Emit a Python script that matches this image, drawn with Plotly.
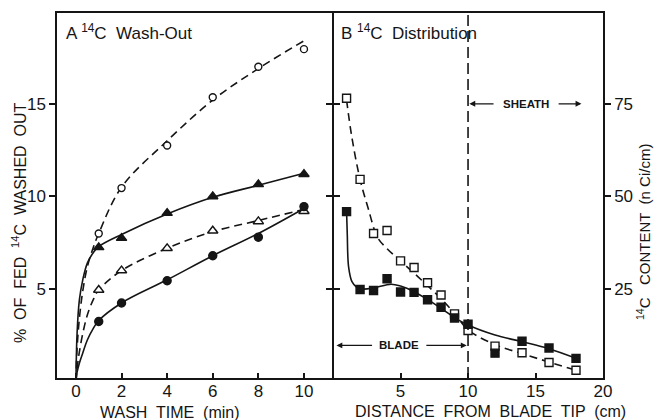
import plotly.graph_objects as go

# ---------------- Panel A data ----------------
wash_time = [1, 2, 4, 6, 8, 10]
open_circle = [8.0, 10.45, 12.75, 15.35, 17.0, 17.95]
filled_triangle = [7.25, 7.75, 9.1, 10.0, 10.65, 11.2]
open_triangle = [4.95, 6.0, 7.2, 8.15, 8.65, 9.2]
filled_circle = [3.25, 4.25, 5.45, 6.8, 7.8, 9.45]

# fitted curves
fit_time = [0, 0.05, 0.15, 0.3, 0.5, 0.75, 1, 2, 4, 6, 8, 10]
open_circle_fit = [0, 1.8, 3.4, 4.9, 6.2, 7.2, 8.0, 10.5, 13.0, 15.2, 16.9, 18.4]
filled_triangle_fit = [0, 2.6, 4.4, 5.5, 6.4, 6.95, 7.3, 7.95, 9.05, 9.95, 10.6, 11.25]
open_triangle_fit = [0, 0.7, 1.6, 2.6, 3.6, 4.4, 4.95, 6.0, 7.2, 8.1, 8.7, 9.3]
filled_circle_fit = [0, 0.5, 1.0, 1.55, 2.25, 2.85, 3.3, 4.25, 5.5, 6.8, 8.0, 9.35]

# ---------------- Panel B data ----------------
distance = [1, 2, 3, 4, 5, 6, 7, 8, 9, 10, 12, 14, 16, 18]
open_square = [76.5, 54.6, 40.0, 40.8, 32.6, 30.8, 26.7, 23.4, 18.3, 13.8, 9.6, 7.8, 5.2, 3.1]
filled_square = [45.9, 24.9, 24.6, 27.8, 24.2, 24.1, 22.1, 20.1, 17.2, 15.5, 7.7, 10.9, 9.1, 6.3]

open_fit_x = [1, 1.4, 2, 2.6, 3.3, 4, 4.8, 6.3, 8, 9, 10, 12, 14, 16, 18]
open_fit_y = [76, 65.8, 54.6, 46.8, 38.9, 35.9, 33.2, 28.3, 22.4, 18.4, 14.0, 10.0, 7.6, 5.3, 3.1]
filled_fit_x = [1, 1.05, 1.15, 1.4, 1.75, 2.2, 3, 4.3, 5, 6, 7, 8, 9, 10, 12, 14, 16, 18]
filled_fit_y = [46, 40, 31, 27, 25.5, 25.0, 25.3, 26.3, 25.8, 24.3, 22.2, 19.8, 17.3, 15.3, 12.6, 10.8, 8.9, 6.3]

left_y_ticks = [5, 10, 15]
left_x_ticks = [0, 2, 4, 6, 8, 10]
right_y_ticks = [25, 50, 75]
right_x_ticks = [5, 10, 15, 20]

INK = "#151515"
FONT = "Liberation Sans"
DASH = "8px,5px"

fig = go.Figure()

def line(x, y, dash, xa="x", ya="y"):
    fig.add_trace(go.Scatter(x=x, y=y, mode="lines", xaxis=xa, yaxis=ya,
                             line=dict(color=INK, width=1.6, dash=dash, shape="spline", smoothing=1.0),
                             hoverinfo="skip", showlegend=False))

def marks(x, y, symbol, size, filled, xa="x", ya="y"):
    fig.add_trace(go.Scatter(x=x, y=y, mode="markers", xaxis=xa, yaxis=ya,
                             marker=dict(symbol=symbol, size=size,
                                         color=INK if filled else "white",
                                         line=dict(color=INK, width=1.4)),
                             showlegend=False))

# Panel A
line(fit_time, open_circle_fit, DASH)
line(fit_time, filled_triangle_fit, "solid")
line(fit_time, open_triangle_fit, DASH)
line(fit_time, filled_circle_fit, "solid")
marks(wash_time, open_circle, "circle", 7, False)
marks(wash_time, filled_triangle, "triangle-up", 9, True)
marks(wash_time, open_triangle, "triangle-up", 9, False)
marks(wash_time, filled_circle, "circle", 8, True)

# Panel B
line(open_fit_x, open_fit_y, DASH, "x2", "y2")
line(filled_fit_x, filled_fit_y, "solid", "x2", "y2")
marks(distance, open_square, "square", 8, False, "x2", "y2")
marks(distance, filled_square, "square", 8, True, "x2", "y2")

W, H = 656, 420
ML, MR, MT, MB = 57, 53, 13, 42
PW, PH = W - ML - MR, H - MT - MB
LW = 1.5
split_l = (333 - LW / 2 - ML) / PW
split_r = (333 + LW / 2 - ML) / PW

def px(xp):
    return (xp - ML) / PW

def py(yp):
    return (H - MB - yp) / PH

axis_common = dict(showgrid=False, zeroline=False, showline=True, linecolor=INK, linewidth=LW,
                   tickcolor=INK, tickwidth=1.5, tickfont=dict(family=FONT, size=17, color=INK))

fig.update_layout(
    width=W, height=H, margin=dict(l=ML, r=MR, t=MT, b=MB),
    paper_bgcolor="white", plot_bgcolor="white",
    xaxis=dict(domain=[0, split_l], range=[-0.83, 11.24], tickvals=left_x_ticks,
               ticks="inside", ticklen=5, mirror=True, anchor="y", ticklabelstandoff=-3,
               **axis_common),
    yaxis=dict(domain=[0, 1], range=[0.2, 19.9], tickvals=left_y_ticks,
               ticks="outside", ticklen=6, mirror="ticks", anchor="x", **axis_common),
    xaxis2=dict(domain=[split_r, 1], range=[0.05, 20], tickvals=right_x_ticks,
                ticks="inside", ticklen=5, mirror=True, anchor="y2", ticklabelstandoff=-3,
                **axis_common),
    yaxis2=dict(domain=[0, 1], range=[1.0, 99.5], tickvals=right_y_ticks, side="right",
                ticks="outside", ticklen=6, mirror="ticks", anchor="x2", **axis_common),
)

fig.add_shape(type="line", xref="x2", yref="y2 domain", x0=10, x1=10, y0=0, y1=1,
              line=dict(color=INK, width=1.6, dash="11px,5px"))

ann = []
tf = dict(family=FONT, size=17, color=INK)
ann.append(dict(xref="paper", yref="paper", x=px(64), y=py(32), xanchor="left", yanchor="middle",
                text="A <sup>14</sup>C  Wash-Out", showarrow=False, font=tf))
ann.append(dict(xref="paper", yref="paper", x=px(339), y=py(32), xanchor="left", yanchor="middle",
                text="B <sup>14</sup>C  Distribution", showarrow=False, font=tf))
af = dict(family=FONT, size=16, color=INK)
ann.append(dict(xref="paper", yref="paper", x=px(170), y=py(412), xanchor="center", yanchor="middle",
                text="WASH  TIME  (min)", showarrow=False, font=af))
ann.append(dict(xref="paper", yref="paper", x=px(490), y=py(411), xanchor="center", yanchor="middle",
                text="DISTANCE  FROM  BLADE  TIP  (cm)", showarrow=False, font=af))
ann.append(dict(xref="paper", yref="paper", x=px(19), y=py(223), xanchor="center", yanchor="middle",
                text="%  OF  FED  <sup>14</sup>C  WASHED  OUT", textangle=-90, showarrow=False, font=af))
ann.append(dict(xref="paper", yref="paper", x=px(643), y=py(232), xanchor="center", yanchor="middle",
                text="<sup>14</sup>C   CONTENT  (n Ci/cm)", textangle=-90, showarrow=False,
                font=dict(family=FONT, size=15, color=INK)))

sf = dict(family=FONT, size=11.5, color=INK)
ann.append(dict(xref="x2", yref="y2", x=14.3, y=75, text="<b>SHEATH</b>", showarrow=False, font=sf))
ann.append(dict(xref="x2", yref="y2", x=4.85, y=9.8, text="<b>BLADE</b>", showarrow=False, font=sf))
for hx, tx, yy in [(10.1, 12.0, 75), (18.4, 16.6, 75), (0.25, 3.0, 9.8), (9.9, 6.8, 9.8)]:
    ann.append(dict(xref="x2", yref="y2", axref="x2", ayref="y2", x=hx, y=yy, ax=tx, ay=yy,
                    text="", showarrow=True, arrowhead=2, arrowsize=0.9, arrowwidth=1.3,
                    arrowcolor=INK))
fig.update_layout(annotations=ann)

fig.write_html("out.html", config={"displayModeBar": False},
               post_script="document.body.style.margin='0';document.body.style.overflow='hidden';")
